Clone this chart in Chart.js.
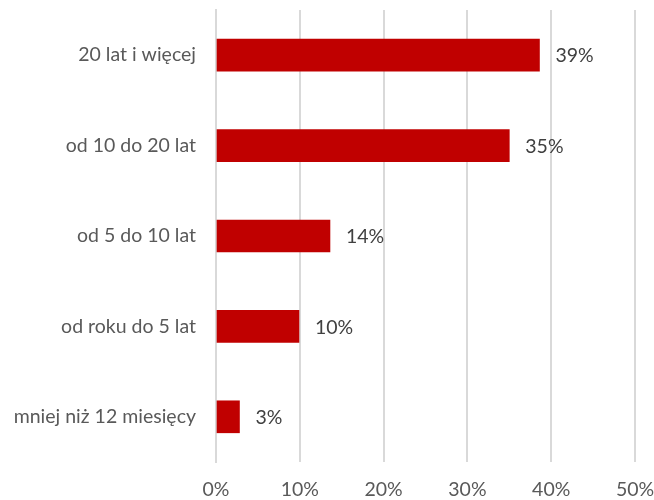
<!DOCTYPE html>
<html>
<head>
<meta charset="utf-8">
<script src="https://cdn.jsdelivr.net/npm/chart.js@4/dist/chart.umd.min.js"></script>
<style>
  html, body { margin: 0; padding: 0; background: #fff; }
  #wrap { width: 654px; height: 500px; position: relative; }
</style>
</head>
<body>
<div id="wrap"><canvas id="chart"></canvas></div>
<script>
  // Staż: udział odpowiedzi w procentach
  var categories = [
    '20 lat i więcej',
    'od 10 do 20 lat',
    'od 5 do 10 lat',
    'od roku do 5 lat',
    'mniej niż 12 miesięcy'
  ];
  var shares = [38.6, 35.0, 13.6, 9.9, 2.8];
  var tickValues = [0, 10, 20, 30, 40, 50];

  var BAR_COLOR = '#C00000';
  var TEXT_COLOR = '#595959';
  var GRID_COLOR = '#D9D9D9';
  var FONT = 'Lato, "Noto Sans", sans-serif';
  var FONT_SIZE = 19.5;

  /**
   * Value labels to the right of each bar.
   */
  var valueLabels = {
    id: 'valueLabels',
    afterDatasetsDraw: function (chart) {
      var ctx = chart.ctx;
      var meta = chart.getDatasetMeta(0);
      ctx.save();
      ctx.font = FONT_SIZE + 'px ' + FONT;
      ctx.fillStyle = '#404040';
      ctx.textAlign = 'left';
      ctx.textBaseline = 'middle';
      meta.data.forEach(function (bar, i) {
        ctx.fillText(Math.round(shares[i]) + '%', bar.x + 16, bar.y + 1);
      });
      ctx.restore();
    }
  };

  new Chart(document.getElementById('chart'), {
    type: 'bar',
    data: {
      labels: categories,
      datasets: [{
        data: shares,
        backgroundColor: BAR_COLOR,
        borderWidth: 0,
        barThickness: 32
      }]
    },
    options: {
      indexAxis: 'y',
      responsive: true,
      maintainAspectRatio: false,
      animation: false,
      layout: { padding: { top: 10, right: 19, bottom: 0, left: 0 } },
      plugins: {
        legend: { display: false },
        tooltip: { enabled: false }
      },
      scales: {
        x: {
          min: 0,
          max: 50,
          afterBuildTicks: function (scale) {
            scale.ticks = tickValues.map(function (v) { return { value: v }; });
          },
          afterFit: function (scale) {
            scale.height = 38;
            scale.paddingLeft = 0;
            scale.paddingRight = 0;
          },
          grid: {
            color: GRID_COLOR,
            lineWidth: 2,
            drawTicks: false
          },
          border: { display: false },
          ticks: {
            padding: 16,
            maxRotation: 0,
            color: TEXT_COLOR,
            font: { family: FONT, size: FONT_SIZE }
          ,
            callback: function (v) { return v + '%'; }
          }
        },
        y: {
          afterFit: function (scale) {
            scale.width = 216;
            scale.paddingTop = 0;
            scale.paddingBottom = 0;
          },
          grid: { display: false, drawTicks: false },
          border: { display: true, color: GRID_COLOR, width: 2 },
          ticks: {
            padding: 20,
            color: TEXT_COLOR,
            font: { family: FONT, size: FONT_SIZE }
          }
        }
      }
    },
    plugins: [valueLabels]
  });
</script>
</body>
</html>
